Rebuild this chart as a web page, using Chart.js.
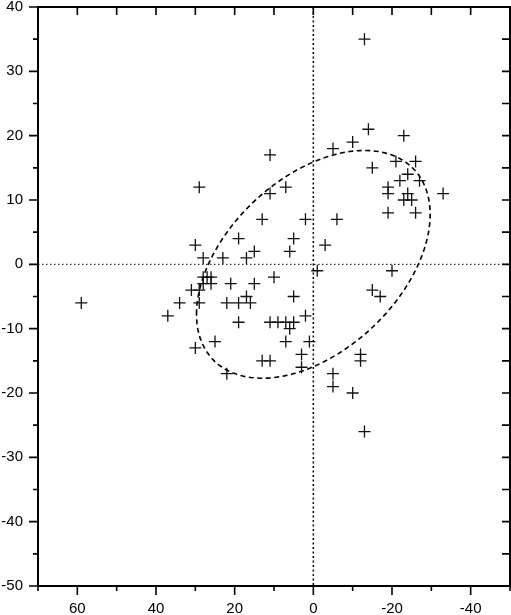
<!DOCTYPE html>
<html>
<head>
<meta charset="utf-8">
<script src="https://cdn.jsdelivr.net/npm/chart.js@4/dist/chart.umd.min.js"></script>
<style>
body{margin:0;background:#fff;}
#wrap{width:511px;height:615px;}
</style>
</head>
<body>
<div id="wrap"><canvas id="chart" width="511" height="615"></canvas></div>
<script>
// ================= DỮ LIỆU =================
let pointX = [59,37,34,29,30,25,22,22,19,17,16,19,31,29,28,27,26,28,26,21,15,
  29,30,28,23,19,17,15,13,11,7,11,2,5,6,10,5,
  -13,-14,-23,-10,-5,-15,-21,-26,-24,-22,-27,-19,-19,-24,-23,-25,-33,-19,-26,-6,-3,-1,-20,-15,-17,
  11,9,7,5,6,7,2,1,13,11,3,3,-12,-12,-5,-5,-10,-13];
let pointY = [-6,-8,-6,-6,-13,-12,-17,-6,-6,-5,-6,-9,-4,-4,-2,-2,-2,-3,-3,-3,-3,
  12,3,1,1,4,1,2,7,11,12,17,7,4,2,-2,-5,
  35,21,20,19,18,15,16,16,14,13,13,12,11,11,10,10,11,8,8,7,3,-1,-1,-4,-5,
  -9,-9,-9,-9,-10,-12,-8,-12,-15,-15,-14,-16,-14,-15,-17,-19,-20,-26];

// trục
let xRange = [-50, 70];
let yRange = [-50, 40];
let xLabelStep = 20;
let yLabelStep = 10;

// ellipse: tâm, nửa bề rộng (x), nửa chiều cao (y), độ lệch pha (độ)
let ellipseCenter = [0, 0];
let ellipseHalfX = 29.7;
let ellipseHalfY = 17.7;
let ellipsePhase = 116;

let pts = pointX.map((x, i) => ({x: x, y: pointY[i]}));

// ================= VẼ THÊM =================
let extras = {
  id: 'extras',
  beforeDatasetsDraw(chart){
    let ctx = chart.ctx;
    let xs = chart.scales.x, ys = chart.scales.y;
    let a = chart.chartArea;
    ctx.save();
    ctx.strokeStyle = '#000';

    // đường 0 ngang
    ctx.lineWidth = 1;
    ctx.setLineDash([1.5, 2.5]);
    let y0 = ys.getPixelForValue(0);
    ctx.beginPath();
    ctx.moveTo(a.left, y0);
    ctx.lineTo(a.right, y0);
    ctx.stroke();

    // đường 0 dọc
    ctx.lineWidth = 1.5;
    ctx.setLineDash([2, 2.5]);
    let x0 = xs.getPixelForValue(0);
    ctx.beginPath();
    ctx.moveTo(x0, a.top);
    ctx.lineTo(x0, a.bottom);
    ctx.stroke();

    // ellipse
    ctx.lineWidth = 1.6;
    ctx.setLineDash([5, 3.5]);
    ctx.beginPath();
    let ph = ellipsePhase * Math.PI / 180;
    for(let k = 0; k <= 200; k++){
      let t = k / 200 * Math.PI * 2;
      let px = xs.getPixelForValue(ellipseCenter[0] + ellipseHalfX * Math.cos(t));
      let py = ys.getPixelForValue(ellipseCenter[1] + ellipseHalfY * Math.cos(t - ph));
      if(k === 0) ctx.moveTo(px, py); else ctx.lineTo(px, py);
    }
    ctx.closePath();
    ctx.stroke();
    ctx.restore();
  },
  afterDraw(chart){
    let ctx = chart.ctx;
    let xs = chart.scales.x, ys = chart.scales.y;
    let a = chart.chartArea;
    ctx.save();
    ctx.strokeStyle = '#000';
    ctx.setLineDash([]);

    // khung
    ctx.lineWidth = 2;
    ctx.strokeRect(a.left, a.top, a.right - a.left, a.bottom - a.top);

    ctx.lineWidth = 1.6;
    ctx.beginPath();
    // vạch trục x
    xs.ticks.forEach(t => {
      let px = xs.getPixelForValue(t.value);
      let len = t.value % xLabelStep === 0 ? 9 : 5;
      ctx.moveTo(px, a.bottom);
      ctx.lineTo(px, a.bottom + len);
      ctx.moveTo(px, a.top);
      ctx.lineTo(px, a.top + 8);
    });
    // vạch trục y
    ys.ticks.forEach(t => {
      let py = ys.getPixelForValue(t.value);
      let len = t.value % yLabelStep === 0 ? 9 : 5;
      ctx.moveTo(a.left, py);
      ctx.lineTo(a.left - len, py);
      ctx.moveTo(a.right, py);
      ctx.lineTo(a.right - 8, py);
    });
    ctx.stroke();
    ctx.restore();
  }
};

// ================= BIỂU ĐỒ =================
let font = {family: "'Liberation Sans', Arial, sans-serif", size: 15, lineHeight: 1};

new Chart(document.getElementById('chart').getContext('2d'), {
  type: 'scatter',
  data: {
    datasets: [{
      data: pts,
      pointStyle: 'cross',
      pointRadius: 6,
      pointHoverRadius: 6,
      borderColor: '#111',
      borderWidth: 1.3
    }]
  },
  options: {
    responsive: false,
    animation: false,
    layout: {autoPadding: false, padding: {top: 0, right: 1, left: 0, bottom: 0}},
    plugins: {legend: {display: false}, tooltip: {enabled: false}},
    scales: {
      x: {
        type: 'linear',
        reverse: true,
        min: xRange[0],
        max: xRange[1],
        grid: {display: false, drawTicks: false},
        border: {display: false},
        ticks: {
          stepSize: 10,
          autoSkip: false,
          maxRotation: 0,
          padding: 15.5,
          color: '#000',
          font: font,
          callback: v => v % xLabelStep === 0 && v !== xRange[0] && v !== xRange[1] ? String(v) : ''
        },
        afterFit(s){ s.height = 29; s.paddingLeft = 0; s.paddingRight = 0; }
      },
      y: {
        type: 'linear',
        min: yRange[0],
        max: yRange[1],
        grid: {display: false, drawTicks: false},
        border: {display: false},
        ticks: {
          stepSize: 5,
          autoSkip: false,
          padding: 15,
          color: '#000',
          font: font,
          callback: v => v % yLabelStep === 0 ? String(v) : ''
        },
        afterFit(s){ s.width = 38; s.paddingTop = 7; s.paddingBottom = 0; }
      }
    }
  },
  plugins: [extras]
});
</script>
</body>
</html>
